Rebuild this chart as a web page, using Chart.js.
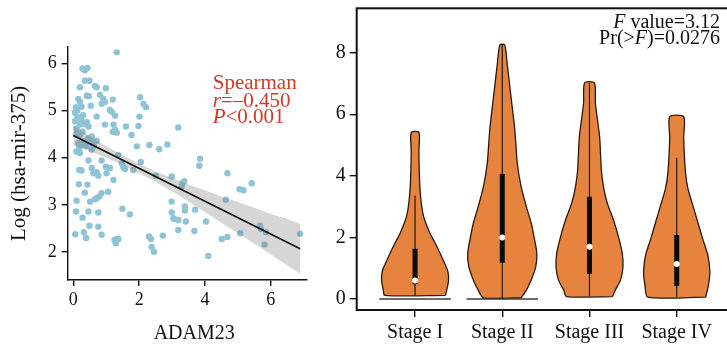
<!DOCTYPE html>
<html>
<head>
<meta charset="utf-8">
<script src="https://cdn.jsdelivr.net/npm/chart.js@4/dist/chart.umd.min.js"></script>
<style>
  html, body { margin: 0; padding: 0; background: #fff; }
  body { width: 727px; height: 347px; overflow: hidden; position: relative; }
  canvas { position: absolute; top: 0; }
  #left { left: 0; }
  #right { left: 320px; }
</style>
</head>
<body>
<canvas id="left" width="320" height="347"></canvas>
<canvas id="right" width="420" height="347"></canvas>
<script>
// ---------------- Left panel data: ADAM23 vs Log(hsa-mir-375) ----------------
const adamX = [1.32,0.28,0.43,0.35,0.35,0.49,0.20,0.66,0.71,0.99,0.41,0.47,0.15,0.20,0.08,0.25,0.12,0.53,0.81,0.91,
  0.96,0.86,1.20,2.03,2.13,2.21,1.11,1.17,1.27,0.71,0.05,0.12,0.25,0.20,0.41,0.46,0.96,1.22,1.27,1.32,
  1.20,1.60,1.77,1.98,2.01,3.19,0.10,0.20,0.28,0.46,0.51,0.61,0.71,0.56,0.15,0.30,0.18,0.10,0.20,0.56,
  1.93,2.31,2.61,2.86,1.37,2.05,3.85,3.83,0.46,0.18,0.25,0.56,0.61,0.71,0.76,0.86,1.01,0.99,1.11,1.22,
  1.47,1.52,1.57,1.82,2.51,2.99,3.32,3.37,3.29,4.68,5.42,5.05,5.17,0.17,0.43,0.35,0.86,1.06,0.79,0.71,
  0.66,0.51,0.10,2.99,4.63,0.08,0.46,0.76,0.28,1.49,1.72,2.99,3.04,3.39,3.39,3.70,3.19,3.07,3.42,4.03,
  0.49,0.76,0.06,0.32,0.39,0.86,1.25,1.32,1.37,1.29,2.30,2.36,2.38,2.45,2.72,3.19,3.68,4.51,4.68,5.07,
  5.67,5.70,5.85,5.81,6.89,4.10,0.05,0.15,0.30,0.35,0.10,0.32,0.40,0.62];
const mirY = [6.23,5.89,5.90,5.85,5.63,5.63,5.49,5.52,5.49,5.47,5.31,5.30,5.24,5.18,5.07,5.08,5.00,5.10,5.33,5.25,
  5.18,5.14,5.23,5.28,5.14,5.07,5.01,4.97,4.89,4.87,4.77,4.84,4.79,4.70,4.75,4.66,4.70,4.70,4.59,4.53,
  4.55,4.66,4.48,4.67,4.87,4.64,4.52,4.48,4.55,4.41,4.38,4.34,4.36,4.45,4.31,4.27,4.20,4.13,4.10,4.17,
  4.24,4.27,4.18,4.28,4.06,3.91,3.98,3.83,3.94,3.74,3.73,3.78,3.67,3.69,3.62,3.94,3.67,3.81,3.78,3.53,
  3.88,3.80,3.76,3.74,3.62,3.60,3.47,3.50,3.39,3.67,3.46,3.33,3.31,3.44,3.43,3.26,3.25,3.28,3.18,3.14,
  3.12,3.07,3.09,3.07,3.11,2.86,2.86,2.84,2.73,2.92,2.80,2.84,2.72,2.97,2.88,2.90,2.68,2.70,2.65,2.65,
  2.56,2.54,2.38,2.42,2.30,2.37,2.26,2.28,2.28,2.19,2.33,2.28,2.11,2.01,2.35,2.47,2.45,2.28,2.32,2.40,
  2.56,2.49,2.42,2.16,2.39,1.92,4.95,4.85,4.90,4.72,4.62,4.35,4.25,4.25];
const fitX = [0, 6.89];
const fitY = [4.47, 2.07];
const bandX = [0, 0.5, 1, 1.5, 2, 2.5, 3, 3.5, 4, 4.5, 5, 5.5, 6, 6.5, 6.89];
const bandUpper = [4.68, 4.46, 4.24, 4.05, 3.87, 3.71, 3.57, 3.43, 3.31, 3.18, 3.06, 2.94, 2.81, 2.70, 2.60];
const bandLower = [4.26, 4.14, 4.00, 3.85, 3.67, 3.49, 3.29, 3.07, 2.85, 2.62, 2.40, 2.18, 1.95, 1.72, 1.54];
const leftXTicks = [0, 2, 4, 6];
const leftYTicks = [2, 3, 4, 5, 6];

// ---------------- Right panel data: violins by stage ----------------
const stages = ['Stage I', 'Stage II', 'Stage III', 'Stage IV'];
const violinLevels = [
  [0.12, 0.30, 0.60, 0.90, 1.20, 1.55, 1.85, 2.10, 2.40, 2.70, 3.10, 3.60, 4.20, 4.80, 5.41],
  [0.04, 0.29, 0.62, 1.05, 1.48, 2.02, 2.46, 3.00, 3.65, 4.41, 5.49, 6.57, 7.65, 8.25],
  [0.08, 0.29, 0.62, 1.05, 1.48, 2.02, 2.56, 3.11, 3.65, 4.19, 5.27, 6.35, 7.02],
  [0.06, 0.45, 0.89, 1.43, 1.97, 2.51, 3.05, 3.59, 4.13, 5.22, 5.92]
];
const violinDensity = [
  [0.87, 0.91, 0.96, 0.94, 0.83, 0.69, 0.56, 0.44, 0.33, 0.24, 0.18, 0.14, 0.12, 0.11, 0.11],
  [0.54, 0.69, 0.83, 0.96, 0.99, 0.91, 0.83, 0.69, 0.54, 0.43, 0.36, 0.25, 0.14, 0.07],
  [0.66, 0.74, 0.89, 0.96, 0.94, 0.83, 0.69, 0.51, 0.40, 0.34, 0.29, 0.17, 0.14],
  [0.83, 0.91, 0.95, 0.89, 0.74, 0.60, 0.46, 0.32, 0.25, 0.20, 0.20]
];
const whiskerLow  = [0.10, 0.00, 0.08, 0.05];
const boxQ1       = [0.48, 1.18, 0.81, 0.43];
const medians     = [0.60, 2.00, 1.70, 1.14];
const boxQ3       = [1.63, 4.06, 3.32, 2.08];
const whiskerHigh = [3.35, 8.25, 7.02, 4.59];
const zeroSpike   = [true, true, false, false];
const rightYTicks = [0, 2, 4, 6, 8];

// ---------------- styling ----------------
const SERIF = '"Liberation Serif", "Times New Roman", serif';
const VIOLIN_HALF = 0.40;   // max half width in category units

function drawRuns(ctx, runs, x, y, size, align) {
  let total = 0;
  runs.forEach(r => { ctx.font = (r[1] ? 'italic ' : '') + size + 'px ' + SERIF; total += ctx.measureText(r[0]).width; });
  let cx = align === 'right' ? x - total : (align === 'center' ? x - total / 2 : x);
  ctx.textAlign = 'left';
  ctx.textBaseline = 'alphabetic';
  runs.forEach(r => {
    ctx.font = (r[1] ? 'italic ' : '') + size + 'px ' + SERIF;
    ctx.fillText(r[0], cx, y);
    cx += ctx.measureText(r[0]).width;
  });
}

const fixedTicks = arr => scale => { scale.ticks = arr.map(v => ({ value: v })); };

// ---------------- Left chart ----------------
const leftAnnot = {
  id: 'leftAnnot',
  afterDraw(chart) {
    const { ctx, chartArea: a } = chart;
    ctx.save();
    ctx.fillStyle = '#cc3b28';
    drawRuns(ctx, [['Spearman', false]], a.left + 145, a.top + 42.5, 21, 'left');
    drawRuns(ctx, [['r', true], ['=\u20130.450', false]], a.left + 145, a.top + 60, 21, 'left');
    drawRuns(ctx, [['P', true], ['<0.001', false]], a.left + 145, a.top + 76.5, 21, 'left');
    // x-axis title
    ctx.fillStyle = '#111';
    drawRuns(ctx, [['ADAM23', false]], (a.left + a.right) / 2 + 7, a.bottom + 59, 20, 'center');
    ctx.restore();
  }
};

new Chart(document.getElementById('left'), {
  type: 'scatter',
  data: {
    datasets: [
      { type: 'line', data: fitX.map((x, i) => ({ x, y: fitY[i] })), borderColor: '#111', borderWidth: 1.6,
        pointRadius: 0, fill: false, order: 1 },
      { type: 'line', data: bandX.map((x, i) => ({ x, y: bandUpper[i] })), borderColor: 'rgba(0,0,0,0)', borderWidth: 0.01,
        pointRadius: 0, fill: '+1', backgroundColor: 'rgba(120,120,120,0.30)', order: 2 },
      { type: 'line', data: bandX.map((x, i) => ({ x, y: bandLower[i] })), borderColor: 'rgba(0,0,0,0)', borderWidth: 0.01,
        pointRadius: 0, fill: false, order: 2 },
      { type: 'scatter', data: adamX.map((x, i) => ({ x, y: mirY[i] })), backgroundColor: '#8fc3d6',
        borderWidth: 0, pointRadius: 3.2, order: 3 }
    ]
  },
  options: {
    responsive: false, animation: false, devicePixelRatio: 1,
    layout: { padding: { left: 0, top: 46.7, right: 13.3, bottom: 0 } },
    plugins: { legend: { display: false }, tooltip: { enabled: false } },
    scales: {
      x: {
        type: 'linear', min: -0.17, max: 7.09,
        afterBuildTicks: fixedTicks(leftXTicks),
        afterFit: s => { s.height = 67; },
        ticks: { font: { family: SERIF, size: 18 }, color: '#111', padding: 3, callback: v => String(v) },
        grid: { drawOnChartArea: false, drawTicks: true, tickLength: 6, color: '#111', lineWidth: 1.4 },
        border: { display: true, color: '#111', width: 1.4 }
      },
      y: {
        type: 'linear', min: 1.41, max: 6.35,
        afterBuildTicks: fixedTicks(leftYTicks),
        afterFit: s => { s.width = 67.7; s.paddingTop = 0; s.paddingBottom = 0; },
        ticks: { font: { family: SERIF, size: 18 }, color: '#111', padding: 5, callback: v => String(v) },
        grid: { drawOnChartArea: false, drawTicks: true, tickLength: 6, color: '#111', lineWidth: 1.4 },
        border: { display: true, color: '#111', width: 1.4 },
        title: { display: true, text: 'Log (hsa-mir-375)', font: { family: SERIF, size: 21 }, color: '#111', padding: { top: 7, bottom: 0 } }
      }
    }
  },
  plugins: [leftAnnot]
});

// ---------------- Right chart ----------------
const rightDatasets = [];
stages.forEach((s, i) => {
  const c = i + 1;
  const lv = violinLevels[i], dn = violinDensity[i];
  const right = lv.map((v, k) => ({ x: c + dn[k] * VIOLIN_HALF, y: v }));
  const left = lv.map((v, k) => ({ x: c - dn[k] * VIOLIN_HALF, y: v })).reverse();
  const poly = right.concat(left, [right[0]]);
  rightDatasets.push({ type: 'line', data: poly, borderColor: '#2a1808', borderWidth: 1.3,
    backgroundColor: '#e5833f', fill: 'shape', pointRadius: 0, tension: 0.25, order: 50 });
  if (zeroSpike[i]) {
    rightDatasets.push({ type: 'line', data: [{ x: c - 0.41, y: 0 }, { x: c + 0.41, y: 0 }],
      borderColor: '#3b3b3b', borderWidth: 1.6, pointRadius: 0, fill: false, order: 45 });
  }
  rightDatasets.push({ type: 'line', data: [{ x: c, y: whiskerLow[i] }, { x: c, y: whiskerHigh[i] }],
    borderColor: '#1a1a1a', borderWidth: 1.2, pointRadius: 0, fill: false, order: 30 });
  rightDatasets.push({ type: 'line', data: [{ x: c, y: boxQ1[i] }, { x: c, y: boxQ3[i] }],
    borderColor: '#0a0a0a', borderWidth: 5, borderCapStyle: 'butt', pointRadius: 0, fill: false, order: 20 });
  rightDatasets.push({ type: 'scatter', data: [{ x: c, y: medians[i] }], backgroundColor: '#ffffff',
    borderWidth: 0, pointRadius: 3, order: 10 });
});

const rightDecor = {
  id: 'rightDecor',
  afterDraw(chart) {
    const { ctx, chartArea: a } = chart;
    ctx.save();
    ctx.strokeStyle = '#111';
    ctx.lineWidth = 2;
    ctx.strokeRect(a.left, a.top, a.right - a.left, a.bottom - a.top);
    ctx.fillStyle = '#111';
    drawRuns(ctx, [['F', true], [' value=3.12', false]], a.right - 10, a.top + 19.5, 20, 'right');
    drawRuns(ctx, [['Pr(>', false], ['F', true], [')=0.0276', false]], a.right - 10, a.top + 36, 20, 'right');
    ctx.restore();
  }
};

new Chart(document.getElementById('right'), {
  type: 'scatter',
  data: { datasets: rightDatasets },
  options: {
    responsive: false, animation: false, devicePixelRatio: 1,
    layout: { padding: { left: 0, top: 8.3, right: 10, bottom: 0 } },
    plugins: { legend: { display: false }, tooltip: { enabled: false } },
    scales: {
      x: {
        type: 'linear', min: 0.331, max: 4.611,
        afterBuildTicks: fixedTicks([1, 2, 3, 4]),
        afterFit: s => { s.height = 37; },
        ticks: { font: { family: SERIF, size: 20 }, color: '#111', padding: 4, callback: v => stages[v - 1] },
        grid: { drawOnChartArea: false, drawTicks: true, tickLength: 7, color: '#111', lineWidth: 1.4 },
        border: { display: false }
      },
      y: {
        type: 'linear', min: -0.357, max: 9.44,
        afterBuildTicks: fixedTicks(rightYTicks),
        afterFit: s => { s.width = 36.7; s.paddingTop = 0; s.paddingBottom = 0; },
        ticks: { font: { family: SERIF, size: 20 }, color: '#111', padding: 4, callback: v => String(v) },
        grid: { drawOnChartArea: false, drawTicks: true, tickLength: 7, color: '#111', lineWidth: 1.4 },
        border: { display: false }
      }
    }
  },
  plugins: [rightDecor]
});
</script>
</body>
</html>
